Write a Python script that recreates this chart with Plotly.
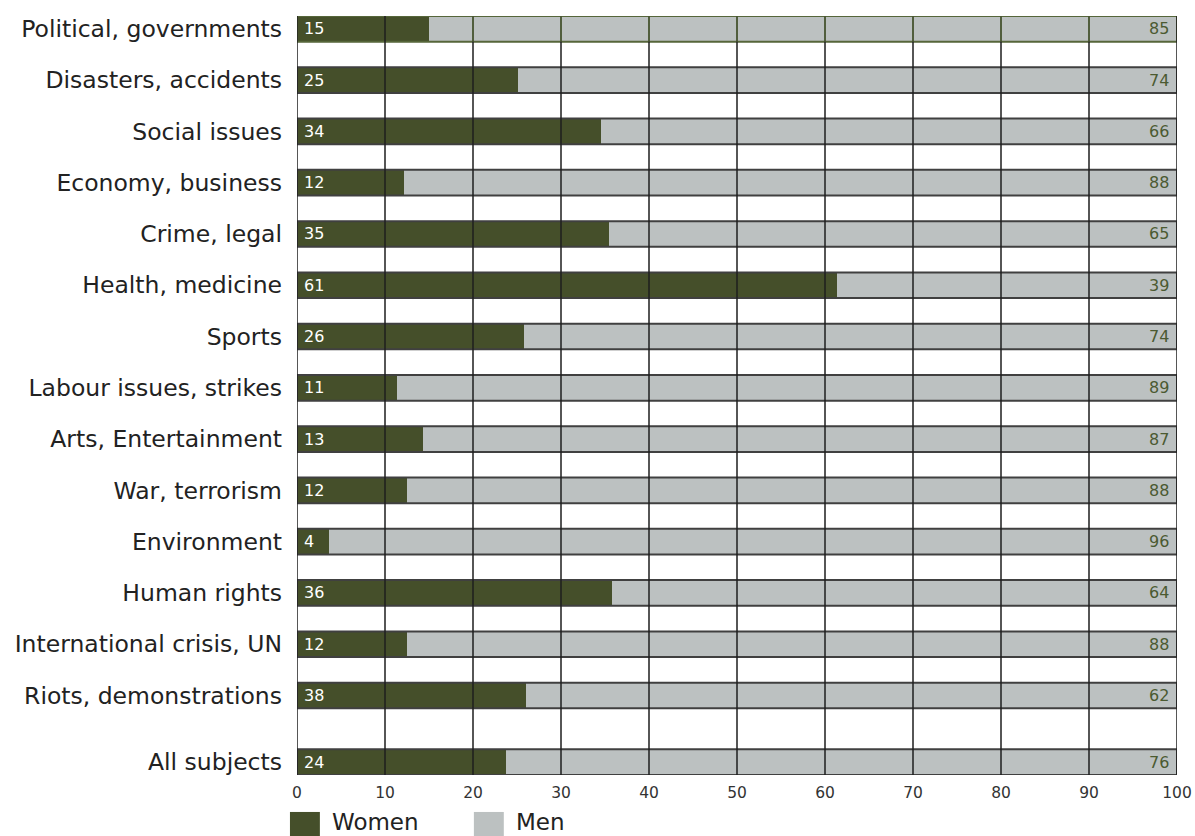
import plotly.graph_objects as go

# ---- data ----
categories = [
    "Political, governments", "Disasters, accidents", "Social issues",
    "Economy, business", "Crime, legal", "Health, medicine", "Sports",
    "Labour issues, strikes", "Arts, Entertainment", "War, terrorism",
    "Environment", "Human rights", "International crisis, UN",
    "Riots, demonstrations", "All subjects",
]
# drawn bar lengths (as seen in the picture)
women_bar = [15.0, 25.1, 34.6, 12.2, 35.5, 61.4, 25.8, 11.4, 14.3, 12.5, 3.6, 35.8, 12.5, 26.0, 23.7]
men_bar = [85.0, 74.9, 65.4, 87.8, 64.5, 38.6, 74.2, 88.6, 85.7, 87.5, 96.4, 64.2, 87.5, 74.0, 76.3]
# printed labels
women_labels = [15, 25, 34, 12, 35, 61, 26, 11, 13, 12, 4, 36, 12, 38, 24]
men_labels = [85, 74, 66, 88, 65, 39, 74, 89, 87, 88, 96, 64, 88, 62, 76]
x_ticks = [0, 10, 20, 30, 40, 50, 60, 70, 80, 90, 100]

# ---- styling ----
WOMEN_C = "#454f2a"
MEN_C = "#bcc1c1"
MEN_TXT = "#4b5a31"
GRID_C = "#1e1e1e"
EDGE_C = "#404040"
TOP_C = "#56663a"
FONT = "DejaVu Sans, Verdana, sans-serif"
BAR_W = 0.5
EXTRA_GAP = 0.3

n = len(categories)
ypos = [i if i < n - 1 else i + EXTRA_GAP for i in range(n)]

fig = go.Figure()
fig.add_trace(go.Bar(
    y=ypos, x=women_bar, base=[0] * n, orientation="h", width=BAR_W,
    marker=dict(color=WOMEN_C, line=dict(width=0)), name="Women",
    showlegend=False, hoverinfo="skip",
))
fig.add_trace(go.Bar(
    y=ypos, x=men_bar, base=women_bar, orientation="h", width=BAR_W,
    marker=dict(color=MEN_C, line=dict(width=0)), name="Men",
    showlegend=False, hoverinfo="skip",
))

shapes = []
# row outlines (table look)
for i, y in enumerate(ypos):
    shapes.append(dict(type="rect", xref="x", yref="y", x0=0, x1=100,
                       y0=y - BAR_W / 2, y1=y + BAR_W / 2,
                       line=dict(color=TOP_C if i == 0 else EDGE_C, width=2),
                       fillcolor="rgba(0,0,0,0)", layer="above"))
# vertical grid lines over bars
for xv in x_ticks:
    shapes.append(dict(type="line", xref="x", yref="y", x0=xv, x1=xv,
                       y0=ypos[0] - BAR_W / 2, y1=ypos[-1] + BAR_W / 2,
                       line=dict(color=GRID_C, width=1.5), layer="above"))
# greenish grid segments in first row
for xv in x_ticks[2:-1]:
    shapes.append(dict(type="line", xref="x", yref="y", x0=xv, x1=xv,
                       y0=ypos[0] - BAR_W / 2, y1=ypos[0] + BAR_W / 2,
                       line=dict(color=TOP_C, width=1.5), layer="above"))

annotations = []
for y, wl, ml in zip(ypos, women_labels, men_labels):
    annotations.append(dict(x=0, y=y, xref="x", yref="y", text=str(wl),
                            xanchor="left", yanchor="middle", xshift=5, showarrow=False,
                            font=dict(family=FONT, size=16, color="#ffffff")))
    annotations.append(dict(x=100, y=y, xref="x", yref="y", text=str(ml),
                            xanchor="right", yanchor="middle", xshift=-6, showarrow=False,
                            font=dict(family=FONT, size=16, color=MEN_TXT)))

# custom legend with large swatches
legend_items = [("Women", WOMEN_C, -0.008), ("Men", MEN_C, 0.201)]
for name, col, x0 in legend_items:
    shapes.append(dict(type="rect", xref="paper", yref="paper", x0=x0, x1=x0 + 0.034,
                       y0=-0.085, y1=-0.0487, fillcolor=col, line=dict(width=0)))
    annotations.append(dict(x=x0 + 0.046, y=-0.0625, xref="paper", yref="paper",
                            text=name, xanchor="left", yanchor="middle", showarrow=False,
                            font=dict(family=FONT, size=23, color="#222222")))

fig.update_layout(
    width=1195, height=836, autosize=False,
    margin=dict(l=297, r=18, t=16, b=61, pad=0),
    paper_bgcolor="white", plot_bgcolor="white",
    barmode="overlay", bargap=0,
    shapes=shapes, annotations=annotations,
    showlegend=False,
    font=dict(family=FONT),
)
fig.update_xaxes(range=[0, 100], tickvals=x_ticks, ticktext=[str(v) for v in x_ticks],
                 showgrid=False, zeroline=False, showline=False, ticks="",
                 ticklabelstandoff=6, automargin=False,
                 tickfont=dict(family=FONT, size=15.5, color="#333333"), fixedrange=True)
fig.update_yaxes(range=[ypos[-1] + BAR_W / 2, ypos[0] - BAR_W / 2],
                 tickvals=ypos, ticktext=categories,
                 showgrid=False, zeroline=False, showline=False, ticks="",
                 ticklabelstandoff=14, automargin=False,
                 tickfont=dict(family=FONT, size=23.5, color="#222222"), fixedrange=True)

fig.write_html("out.html", config={"responsive": False, "displayModeBar": False})
